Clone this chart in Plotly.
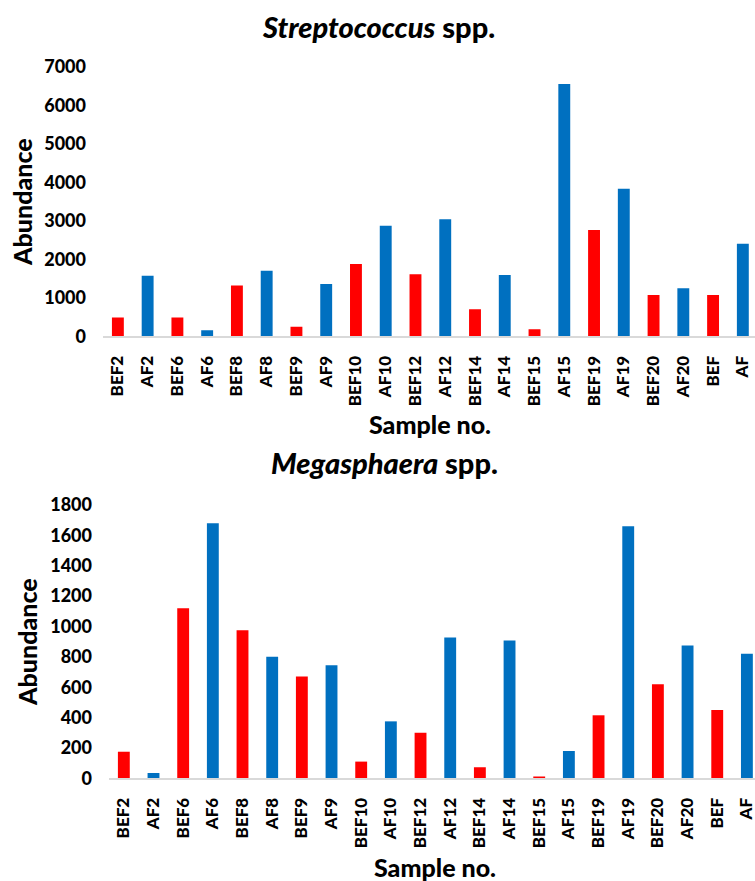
import plotly.graph_objects as go

# Sample labels shared by both panels (before / after pairs)
samples = ["BEF2", "AF2", "BEF6", "AF6", "BEF8", "AF8", "BEF9", "AF9",
           "BEF10", "AF10", "BEF12", "AF12", "BEF14", "AF14", "BEF15", "AF15",
           "BEF19", "AF19", "BEF20", "AF20", "BEF", "AF"]

# Abundance values per sample
strep_abundance = [490, 1570, 490, 160, 1320, 1700, 250, 1360,
                   1880, 2870, 1610, 3040, 700, 1590, 180, 6550,
                   2760, 3830, 1070, 1250, 1070, 2400]
mega_abundance = [175, 35, 1120, 1680, 975, 800, 670, 745,
                  110, 375, 300, 927, 72, 907, 12, 180,
                  415, 1660, 620, 875, 450, 820]

strep_ticks = [0, 1000, 2000, 3000, 4000, 5000, 6000, 7000]
mega_ticks = [0, 200, 400, 600, 800, 1000, 1200, 1400, 1600, 1800]

RED = "#FF0000"
BLUE = "#0070C0"
W, H = 755, 881
FONT = "Lato"

colors = [RED if s.startswith("BEF") else BLUE for s in samples]


def px_x(p):
    return p / W


def px_y(p):
    return 1 - p / H


fig = go.Figure()
fig.add_trace(go.Bar(x=samples, y=strep_abundance, marker_color=colors,
                     width=0.4, xaxis="x", yaxis="y", showlegend=False))
fig.add_trace(go.Bar(x=samples, y=mega_abundance, marker_color=colors,
                     width=0.4, xaxis="x2", yaxis="y2", showlegend=False))

xtick_font = dict(family=FONT, size=17, color="#000000", weight=900)
ytick_font = dict(family=FONT, size=18, color="#000000", weight=900)

# panel geometry in pixels
top_left, top_bottom, top_top, top_step = 103, 336.3, 66.7, 29.76
bot_left, bot_bottom, bot_top, bot_step = 109, 778.3, 505.0, 29.67

common_x = dict(type="category", tickangle=-90, showline=True,
                linecolor="#D9D9D9", linewidth=1.5, ticks="",
                showgrid=False, zeroline=False, tickfont=xtick_font,
                ticklabelstandoff=11, fixedrange=True, automargin=False)
common_y = dict(showline=False, showgrid=False, zeroline=False, ticks="",
                tickfont=ytick_font, ticklabelstandoff=16, fixedrange=True,
                automargin=False)

fig.update_layout(
    template="none",
    width=W, height=H, autosize=False,
    margin=dict(l=0, r=0, t=0, b=0, pad=0),
    paper_bgcolor="white", plot_bgcolor="white",
    bargap=0.6,
    xaxis=dict(common_x, anchor="y",
               domain=[px_x(top_left), 1.0],
               range=[-0.5, (W - top_left) / top_step - 0.5]),
    yaxis=dict(common_y, anchor="x",
               domain=[px_y(top_bottom), px_y(top_top)],
               range=[0, 7000], tickvals=strep_ticks),
    xaxis2=dict(common_x, anchor="y2",
                domain=[px_x(bot_left), 1.0],
                range=[-0.5, (W - bot_left) / bot_step - 0.5]),
    yaxis2=dict(common_y, anchor="x2",
                domain=[px_y(bot_bottom), px_y(bot_top)],
                range=[0, 1800], tickvals=mega_ticks),
)

title_font = dict(family=FONT, size=29, color="#000000", weight=900)
label_font = dict(family=FONT, size=25, color="#000000", weight=900)


def note(text, x, y, font, angle=0):
    fig.add_annotation(text=text, x=px_x(x), y=px_y(y), xref="paper",
                       yref="paper", showarrow=False, font=font,
                       textangle=angle, xanchor="center", yanchor="middle")


note("<i>Streptococcus</i> spp.", 378, 26, title_font)
note("Sample no.", 430, 424, label_font)
note("Abundance", 22, 202, label_font, -90)

note("<i>Megasphaera</i> spp.", 384, 462, title_font)
note("Sample no.", 435, 867, label_font)
note("Abundance", 27, 642, label_font, -90)

fig.write_html("out.html", config={"displayModeBar": False})
